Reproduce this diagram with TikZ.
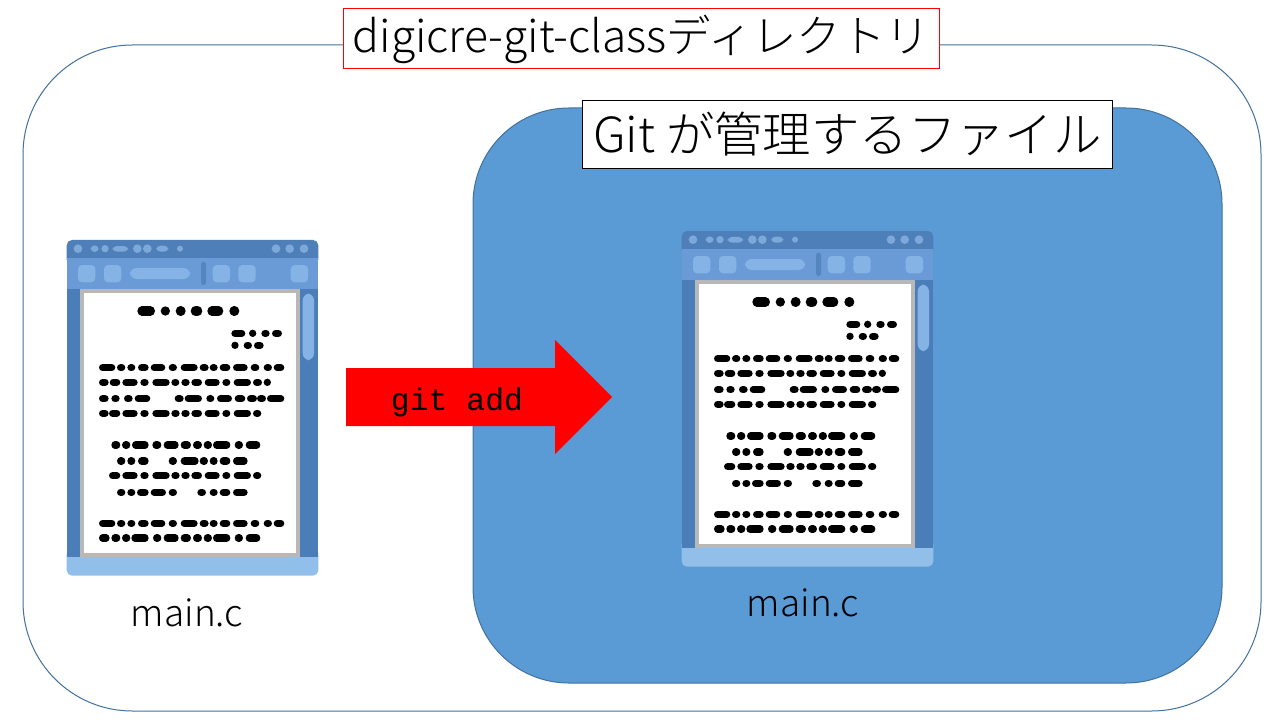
\documentclass[tikz,border=0pt]{standalone}
\usepackage{fontspec}
\setmainfont{Noto Sans CJK JP Light}
\newfontfamily\monof{Liberation Mono}
\definecolor{outerline}{HTML}{41719C}
\definecolor{fillblue}{HTML}{5B9BD5}
\definecolor{barblue}{HTML}{4E7FB9}
\definecolor{toolblue}{HTML}{6A9BD6}
\definecolor{btnblue}{HTML}{85B3E6}
\definecolor{sideblue}{HTML}{4B7DB8}
\definecolor{footblue}{HTML}{92BFEA}
\definecolor{dotblue}{HTML}{7DA8DA}
\tikzset{
  x=0.75pt,y=-0.75pt,
  lbl/.style={inner sep=0pt,anchor=center,text=black},
  inkrow/.style={line width=5.5pt,line cap=round,black},
  inkhead/.style={line width=7pt,line cap=round,black},
}
\newcommand{\inkline}[2]{%
  \foreach \a/\b in {#2}{\draw[inkrow] ({\a+10},#1) -- ({\b-10},#1);}}
\newcommand{\inktitle}[2]{%
  \foreach \a/\b in {#2}{\draw[inkhead] ({\a+14},#1) -- ({\b-14},#1);}}
% document icon, drawn in coordinates of 1/3 pixel from the given origin
\newcommand{\docicon}[2]{%
\begin{scope}[shift={(#1,#2)},x=0.25pt,y=-0.25pt]
  \fill[footblue,rounded corners=4pt] (20,940) rectangle (775,1022);
  \fill[sideblue] (20,150) rectangle (775,965);
  \fill[barblue,rounded corners=4pt] (20,15) rectangle (775,90);
  \fill[barblue] (20,50) rectangle (775,72);
  \fill[toolblue] (20,70) rectangle (775,162);
  \foreach \xa/\xb in {54/106,132/184,458/510,535/587,692/744}
    \fill[btnblue,rounded corners=3pt] (\xa,90) rectangle (\xb,142);
  \fill[btnblue,rounded corners=5pt] (210,99) rectangle (390,132);
  \fill[barblue!80!toolblue,rounded corners=2pt] (423,80) rectangle (438,150);
  \fill[btnblue,rounded corners=5pt] (728,176) rectangle (762,375);
  \foreach \xc in {54,232,262,648,689,732}
    \fill[dotblue] (\xc,41) circle[radius=13];
  \fill[dotblue] (360,41) circle[radius=9];
  \fill[dotblue,rounded corners=3pt] (92,31) rectangle (116,51);
  \fill[dotblue] (135,41) circle[radius=11];
  \fill[dotblue,rounded corners=3pt] (158,33) rectangle (204,50);
  \fill[dotblue,rounded corners=3pt] (289,32) rectangle (325,50);
  \fill[white,draw=black!28,line width=2.8pt] (66,168) rectangle (713,960);
  \inktitle{228}{232/285,302/330,347/377,392/427,442/490,508/538}
  \inkline{295}{515/555,568/588,605/628,637/665}
  \inkline{331}{515/535,552/575,583/610}
  \inkline{398}{118/165,172/195,203/225,235/265,273/315,327/350,363/412,420/445,450/472,480/510,520/562,573/597,612/635,642/672}
  \inkline{442}{118/145,150/180,188/232,242/265,278/328,335/357,365/388,395/425,435/478,488/510,522/572,580/605,612/632}
  \inkline{491}{118/145,155/178,193/217,225/270,345/370,375/425,440/462,472/515,525/555,562/590,592/617,622/672}
  \inkline{535}{118/145,148/180,188/232,242/265,278/328,335/358,365/388,395/425,435/478,488/510,522/572,580/603}
  \inkline{630}{155/180,187/210,217/265,278/303,312/355,363/392,400/425,432/455,460/510,525/548,558/600}
  \inkline{678}{172/195,203/225,235/265,327/350,363/415,420/443,450/472,480/510,520/562}
  \inkline{722}{148/180,188/232,242/265,278/328,335/358,365/388,395/425,435/478,488/510,522/572,580/603}
  \inkline{772}{172/195,203/225,232/265,273/317,327/350,413/437,450/472,480/510,520/562}
  \inkline{865}{118/165,172/195,203/225,235/265,273/315,327/350,363/412,420/445,450/472,480/510,520/562,573/597,612/635,642/672}
  \inkline{909}{118/148,155/180,187/210,215/265,280/303,312/355,363/392,400/425,432/455,460/510,525/548,558/600}
\end{scope}}
\begin{document}
\begin{tikzpicture}
\useasboundingbox (0,0) rectangle (1280,720);
\fill[white] (0,0) rectangle (1280,720);
\draw[outerline,line width=0.75pt,fill=white,rounded corners=82pt] (23,45) rectangle (1261,711);
\draw[outerline,line width=0.75pt,fill=fillblue,rounded corners=72pt] (473,108) rectangle (1222,683);
\docicon{60}{235}
\docicon{675}{226}
\fill[red] (346,368) -- (555,368) -- (555,340) -- (612,397) -- (555,454) -- (555,426) -- (346,426) -- cycle;
\node[lbl] (gitadd) at (457,402) {\monof\fontsize{23.6}{28}\selectfont git add};
\node[draw=red,fill=white,line width=0.75pt,minimum width=446.6pt,minimum height=45pt,inner sep=0pt] (dirbox) at (641.5,39)
  {\fontsize{33.3}{40}\selectfont digicre-git-classディレクトリ};
\node[draw=black,fill=white,line width=0.75pt,minimum width=397pt,minimum height=51pt,inner sep=0pt] (gitbox) at (847.5,134.3)
  {\fontsize{36.3}{44}\selectfont Git が管理するファイル};
\node[lbl] (mainl) at (187,613) {\fontsize{27.7}{33}\selectfont main.c};
\node[lbl] (mainr) at (803,603) {\fontsize{27.7}{33}\selectfont main.c};
\end{tikzpicture}
\end{document}
